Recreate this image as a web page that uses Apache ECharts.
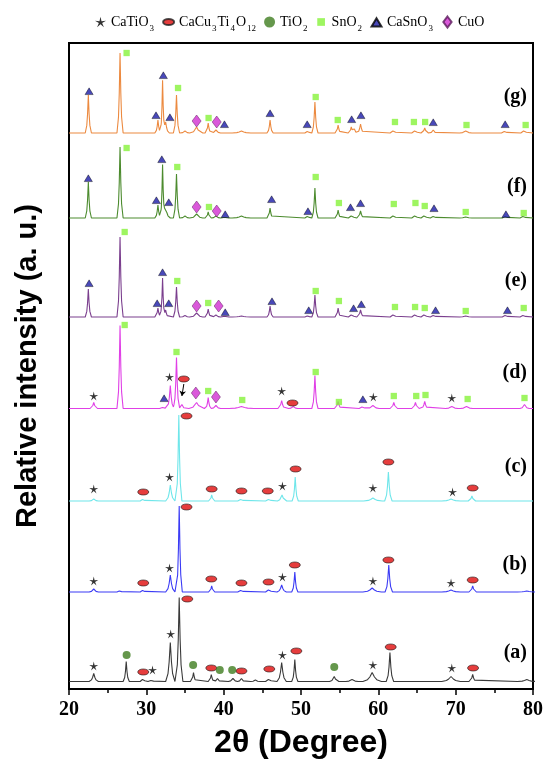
<!DOCTYPE html>
<html><head><meta charset="utf-8">
<script src="https://cdn.jsdelivr.net/npm/echarts@6/dist/echarts.min.js"></script>
<style>html,body{margin:0;padding:0;background:#fff}#c{width:546px;height:759px}</style>
</head><body><div id="c"></div>
<script>
// ---- data: peaks [2theta, height, halfwidth] per pattern, intensity in arbitrary units ----
const traceNames = ['(a)','(b)','(c)','(d)','(e)','(f)','(g)'];
const traceOffsets = [7.5, 97, 188, 280.5, 372, 471, 556];
const peaksA = [[23.2,8,.15],[27.4,20,.1],[29.6,4,.1],[30.7,2,.12],[33.1,39,.15],[34.25,84,.12],[36.1,9,.1],[38.4,7,.1],[39.2,3,.12],[41.2,3,.15],[42.3,3,.12],[44.1,1.5,.15],[45.9,4,.12],[47.5,19,.15],[49.2,22,.1],[54.3,5,.15],[56.6,2,.2],[59.2,9,.3],[61.5,29,.12],[69.4,5,.3],[72.2,7,.12],[79.2,2,.3]];
const peaksB = [[23.2,3,.15],[26.6,2,.1],[29.6,3,.1],[33.1,17,.15],[34.25,86,.1],[38.45,6,.1],[42.3,3,.12],[45.9,4,.12],[47.5,7,.15],[49.2,20,.1],[59.2,4,.3],[61.35,27,.12],[69.4,2,.3],[72.2,6,.12],[79.2,1,.3]];
const peaksC = [[23.2,2,.15],[29.6,3,.1],[33.1,16,.15],[34.2,86,.1],[38.45,6,.1],[42.3,3,.12],[45.9,3,.12],[47.55,6,.15],[49.25,24,.1],[59.3,3,.3],[61.3,29,.12],[69.4,2,.3],[72.1,5,.12]];
const peaksD = [[23.2,6,.12],[26.6,83,.1],[32.2,2,.12],[33.1,23,.12],[33.9,51,.1],[34.6,4,.12],[36.5,6,.25],[38.0,11,.1],[39.0,3,.15],[42.3,2,.4],[47.5,8,.12],[49.0,2,.15],[51.8,33,.1],[54.8,7,.12],[58.0,3,.12],[59.3,3,.2],[62.0,6,.12],[64.8,6,.12],[66.0,7,.12],[69.5,2,.2],[71.4,2,.2],[78.9,4,.15]];
const peaksE = [[22.5,28,.1],[26.6,80,.1],[31.5,9,.1],[32.1,39,.08],[32.5,7,.1],[33.9,30,.1],[35.0,1.5,.15],[36.5,4,.2],[38.0,8,.1],[39.0,2,.15],[40.1,1,.15],[42.3,1,.3],[46.0,11,.1],[50.9,2,.1],[51.8,22,.1],[54.8,9,.1],[56.6,4,.12],[57.7,7,.12],[62.0,4,.12],[64.8,4,.12],[66.0,4,.12],[67.2,3,.12],[71.3,1,.2],[76.5,3,.12],[78.8,3,.12]];
const peaksF = [[22.5,36,.1],[26.6,71,.1],[31.5,13,.1],[32.1,52,.08],[32.5,11,.15],[33.9,44,.1],[35.0,2,.15],[36.5,4,.2],[38.0,6,.1],[39.0,2,.15],[40.1,1,.15],[42.3,2,.3],[46.0,10,.1],[50.9,3,.1],[51.8,30,.1],[54.8,8,.1],[56.6,4,.12],[57.7,7,.12],[62.0,4,.12],[64.8,4,.12],[66.0,4,.12],[67.2,3,.12],[71.3,1,.2],[76.5,3,.12],[78.8,3,.12]];
const peaksG = [[22.5,38,.1],[26.6,80,.1],[31.5,13,.1],[32.1,52,.08],[32.5,11,.12],[33.9,38,.1],[35.0,2,.15],[36.5,6,.2],[38.0,10,.1],[39.0,3,.15],[42.3,2,.3],[46.0,13,.1],[50.9,3,.1],[51.8,31,.1],[54.8,8,.1],[56.5,6,.1],[56.9,4,.1],[57.7,9,.12],[62.0,4,.12],[64.8,4,.12],[66.0,5,.12],[67.1,3,.12],[71.3,2,.2],[76.4,3,.12],[78.9,4,.12]];
const tracePeaks = [peaksA, peaksB, peaksC, peaksD, peaksE, peaksF, peaksG];

// phase markers [2theta, level]
const phaseNames = ['CaTiO3','CaCu3Ti4O12','TiO2','SnO2','CaSnO3','CuO'];
const markCaTiO3 = [[23.2,23],[30.8,19],[33.15,55],[47.6,34],[59.3,24],[69.5,21],
  [23.2,108],[33.0,121],[47.6,112],[59.3,108],[69.4,106],
  [23.2,200],[33.0,212],[47.6,203],[59.3,201],[69.6,197],
  [23.2,293],[33.0,312],[47.5,298],[59.35,292],[69.5,291]];
const markCCTO = [[29.6,17],[35.3,90],[38.4,21],[42.3,18],[45.9,20],[49.4,38],[61.6,42],[72.25,21],
  [29.6,106],[35.2,182],[38.4,110],[42.3,106],[45.8,107],[49.2,124],[61.3,129],[72.2,109],
  [29.6,197],[35.2,273],[38.45,200],[42.3,198],[45.7,198],[49.3,220],[61.3,227],[72.2,201],
  [34.85,310],[48.9,286]];
const markTiO2 = [[27.45,34],[36.05,24],[39.5,19],[41.1,19],[54.3,22]];
const markSnO2 = [[27.2,364],[33.9,337],[38.0,298],[42.4,289],[51.9,317],[54.9,287],[62.0,293],[64.9,293],[66.1,294],[71.55,290],[78.9,291],
  [27.2,457],[34.0,408],[38.0,386],[51.9,398],[54.9,388],[62.15,382],[64.75,382],[66.0,381],[71.3,378],[78.8,381],
  [27.45,541],[34.0,522],[38.1,482],[51.9,512],[54.9,486],[62.0,485],[64.8,486],[66.0,483],[71.3,477],[78.8,476],
  [27.45,636],[34.1,601],[38.05,571],[51.9,592],[54.75,569],[62.15,567],[64.6,567],[66.05,567],[71.4,564],[79.05,564]];
const markCaSnO3 = [[32.3,291],[58.0,290],
  [22.6,406],[31.4,386],[32.1,417],[32.9,386],[40.2,377],[46.25,388],[51.0,379],[56.8,381],[57.8,385],[67.4,379],[76.7,379],
  [22.5,511],[31.3,489],[32.0,530],[32.9,487],[40.2,475],[46.2,490],[50.9,478],[56.4,482],[57.7,486],[67.2,481],[76.5,475],
  [22.6,598],[31.25,574],[32.2,614],[33.05,572],[40.1,565],[46.0,576],[50.8,565],[56.55,570],[57.75,574],[67.1,567],[76.4,565]];
const markCuO = [[36.4,296],[39.0,292],[36.5,383],[39.35,383],[36.5,482],[39.1,478],[36.5,568],[39.1,567]];
const arrowD = [[34.85,305],[34.6,293]];
const xTicks = [20,30,40,50,60,70,80];

// ---- build line profiles from peak lists ----
const shape = [[0,1],[1,0.5],[2,0.2],[4,0]];
function peakVal(x, p){
  const d = Math.abs(x - p[0]) / p[2];
  for (let i=0;i<shape.length-1;i++){
    const [d0,v0]=shape[i],[d1,v1]=shape[i+1];
    if (d<=d1) return p[1]*(v0+(v1-v0)*(d-d0)/(d1-d0));
  }
  return 0;
}
function profile(peaks, off){
  const xs = new Set([20,80]);
  peaks.forEach(p => [-4,-2,-1,0,1,2,4].forEach(k => xs.add(+(p[0]+k*p[2]).toFixed(4))));
  return [...xs].sort((a,b)=>a-b).map(x => [x, off + peaks.reduce((s,p)=>s+peakVal(x,p),0)]);
}

const colors = ['#3a3a3a','#3b3bf5','#6fe6ea','#e040e6','#7b3f8e','#4c8b2e','#ec8a40'];
const starPath = 'path://M10 0 L11.76 7.57 L19.51 6.91 L12.85 10.93 L15.88 18.09 L10 13 L4.12 18.09 L7.15 10.93 L0.49 6.91 L8.24 7.57 Z';
const ellPath = 'path://M0,0 M20,20 M0,10 A10,5.5 0 1,0 20,10 A10,5.5 0 1,0 0,10 Z';
const diaPath = 'path://M0,0 M12,12 M6,0 L10.5,6 L6,12 L1.5,6 Z';
const sqPath = 'path://M0,0 M10,10 M1.5,1.5 L8.5,1.5 L8.5,8.5 L1.5,8.5 Z';
const triPath = 'path://M0,0 M10,10 M5,1.5 L9.5,9 L0.5,9 Z';

const series = [];
tracePeaks.forEach((pk,i)=>{
  const s = {type:'line', name:traceNames[i], data:profile(pk, traceOffsets[i]), showSymbol:false,
    symbol:'none', lineStyle:{color:colors[i], width:1.1}, z:2, silent:true};
  if (i===3){
    s.markLine = {silent:true, symbol:['none','arrow'], symbolSize:5, label:{show:false},
      lineStyle:{color:'#000', width:1, type:'solid'},
      data:[[{coord:arrowD[0]},{coord:arrowD[1]}]]};
  }
  series.push(s);
});
const markerDefs = [
  {name:'CaTiO3', data:markCaTiO3, symbol:starPath, size:9, style:{color:'#000'}},
  {name:'CaCu3Ti4O12', data:markCCTO, symbol:ellPath, size:11, style:{color:'#e00d0d', borderColor:'#222', borderWidth:0.8}},
  {name:'TiO2', data:markTiO2, symbol:'circle', size:8, style:{color:'#3f7d1f'}},
  {name:'SnO2', data:markSnO2, symbol:sqPath, size:9, style:{color:'#86f23a'}},
  {name:'CaSnO3', data:markCaSnO3, symbol:triPath, size:9, style:{color:'#1c1ca8', borderColor:'#000', borderWidth:0.5}},
  {name:'CuO', data:markCuO, symbol:diaPath, size:12, style:{color:'#d12fd1', borderColor:'#5a1a5a', borderWidth:0.6}}
];
markerDefs.forEach(m => series.push({type:'scatter', name:m.name, data:m.data, symbol:m.symbol,
  symbolSize:m.size, itemStyle:m.style, z:5, silent:true}));

function sub(name){
  return name.split(/(\d+)/).filter(s=>s.length).map(s => /^\d+$/.test(s) ? '{s|'+s+'}' : '{t|'+s+'}').join('');
}

const chart = echarts.init(document.getElementById('c'), null, {renderer:'canvas'});
chart.setOption({
  animation:false,
  backgroundColor:'#fff',
  grid:{left:69, right:13, top:43, bottom:70, show:true, borderColor:'#000', borderWidth:2,
    containLabel:false, outerBoundsMode:'none'},
  legend:{data:phaseNames, top:15, left:95, width:460, itemWidth:11, itemHeight:11, itemGap:8,
    formatter:sub, selectedMode:false, padding:0,
    textStyle:{color:'#000', fontFamily:'Liberation Serif', fontSize:14,
      rich:{t:{fontFamily:'Liberation Serif', fontSize:14, color:'#000'},
            s:{fontFamily:'Liberation Serif', fontSize:9, color:'#000', padding:[14,1,0,1]}}}},
  xAxis:{type:'value', min:20, max:80, interval:10,
    axisLine:{lineStyle:{color:'#000', width:2}},
    axisTick:{length:6, lineStyle:{color:'#000', width:1.5}},
    minorTick:{show:true, splitNumber:2, length:4, lineStyle:{color:'#000', width:1.5}},
    splitLine:{show:false},
    axisLabel:{color:'#000', fontFamily:'Liberation Serif', fontWeight:'bold', fontSize:20, margin:11,
      formatter:v => xTicks.includes(v) ? String(v) : ''},
    name:'2θ (Degree)', nameLocation:'middle', nameGap:38,
    nameTextStyle:{color:'#000', fontFamily:'Liberation Sans', fontWeight:'bold', fontSize:32}},
  yAxis:{type:'value', min:0, max:646, axisLabel:{show:false}, axisTick:{show:false}, splitLine:{show:false},
    axisLine:{show:true, lineStyle:{color:'#000', width:2}},
    name:'Relative intensity (a. u.)', nameLocation:'middle', nameGap:27, nameRotate:90,
    nameTextStyle:{color:'#000', fontFamily:'Liberation Sans', fontWeight:'bold', fontSize:29}},
  graphic: traceNames.map((t,i)=>({type:'text', right:19, top:[643,555,457,363,271,177,87][i],
    style:{text:t, fill:'#000', font:'bold 20px "Liberation Serif"'}})),
  series
});
</script></body></html>
